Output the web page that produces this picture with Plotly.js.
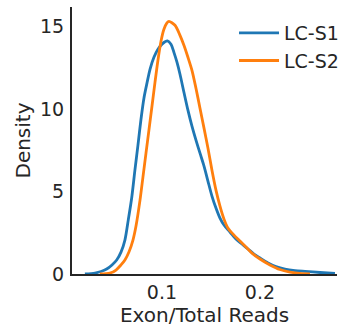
<!DOCTYPE html>
<html>
<head>
<meta charset="utf-8">
<script src="https://cdn.plot.ly/plotly-3.0.1.min.js"></script>
<style>html,body{margin:0;padding:0;background:#fff;}#chart{width:343px;height:327px;}</style>
</head>
<body>
<div id="chart"></div>
<script>
var seriesNames = ["LC-S1", "LC-S2"];
var s1X = [0.0214,0.0316,0.0378,0.0436,0.0490,0.0538,0.0582,0.0622,0.0656,0.0691,0.0724,0.0755,0.0786,0.0816,0.0847,0.0878,0.0918,0.0959,0.1000,0.1031,0.1056,
           0.1092,0.1122,0.1153,0.1184,0.1224,0.1265,0.1306,0.1347,0.1388,0.1429,0.1469,0.1510,0.1551,0.1592,0.1633,0.1694,0.1755,0.1816,0.1878,0.1939,0.2000,0.2082,0.2163,0.2255,0.2357,0.2459,0.2612,0.2765];
var s1Y = [0,0.06,0.15,0.30,0.55,0.85,1.33,2.06,3.27,4.61,6.30,7.82,9.39,10.67,11.58,12.42,13.15,13.64,13.94,14.09,14.15,
           13.94,13.45,12.85,12.12,11.03,9.94,8.97,8.12,7.33,6.55,5.64,4.73,4.00,3.39,2.97,2.55,2.12,1.82,1.52,1.21,0.97,0.67,0.45,0.30,0.21,0.16,0.09,0.03];
var s2X = [0.0367,0.0469,0.0531,0.0582,0.0622,0.0663,0.0704,0.0735,0.0776,0.0806,0.0837,0.0867,0.0898,0.0929,0.0959,0.0990,0.1020,0.1051,0.1071,
           0.1133,0.1184,0.1224,0.1265,0.1306,0.1347,0.1388,0.1429,0.1469,0.1510,0.1551,0.1592,0.1633,0.1673,0.1735,0.1796,0.1857,0.1918,0.2000,0.2102,0.2204,0.2306,0.2408,0.2510];
var s2Y = [0,0.06,0.24,0.55,0.85,1.33,2.06,2.91,4.48,5.88,7.33,8.73,10.18,11.64,12.97,14.12,14.85,15.24,15.33,
           15.09,14.48,13.88,13.15,12.36,11.27,10.06,8.85,7.64,6.30,5.09,4.12,3.33,2.79,2.36,2.00,1.64,1.27,0.91,0.55,0.27,0.12,0.03,0];
var xTickVals = [0.1, 0.2];
var xTickText = ["0.1", "0.2"];
var yTickVals = [0, 5, 10, 15];
var yTickText = ["0", "5", "10", "15"];
var colors = ["#1f77b4", "#ff7f0e"];

var fontFam = "DejaVu Sans, sans-serif";
var traces = [
  {x: s1X, y: s1Y, name: seriesNames[0], type: "scatter", mode: "lines",
   line: {color: colors[0], width: 2.8, shape: "spline", smoothing: 0.8}},
  {x: s2X, y: s2Y, name: seriesNames[1], type: "scatter", mode: "lines",
   line: {color: colors[1], width: 2.8, shape: "spline", smoothing: 0.8}}
];
var layout = {
  width: 343, height: 327,
  margin: {l: 72, r: 6, t: 7, b: 53, autoexpand: false},
  paper_bgcolor: "#fff", plot_bgcolor: "#fff",
  showlegend: true,
  legend: {x: 1.0265, xanchor: "right", y: 0.974, yanchor: "top", itemwidth: 40,
           font: {family: fontFam, size: 19, color: "#262626"},
           bgcolor: "rgba(0,0,0,0)", tracegroupgap: 0},
  xaxis: {range: [0.0082, 0.2786], tickvals: xTickVals, ticktext: xTickText,
          showgrid: false, zeroline: false, showline: true, linecolor: "#262626", linewidth: 2,
          ticks: "", ticklabelstandoff: 0, automargin: false,
          tickfont: {family: fontFam, size: 19, color: "#262626"},
          title: {text: "Exon/Total Reads", font: {family: fontFam, size: 20, color: "#262626"}, standoff: 0}},
  yaxis: {range: [0, 16.2], tickvals: yTickVals, ticktext: yTickText,
          showgrid: false, zeroline: false, showline: true, linecolor: "#262626", linewidth: 2,
          ticks: "", ticklabelstandoff: 2, automargin: false,
          tickfont: {family: fontFam, size: 19, color: "#262626"},
          title: {text: "Density", font: {family: fontFam, size: 20, color: "#262626"}, standoff: 4}}
};
Plotly.newPlot("chart", traces, layout, {displayModeBar: false, staticPlot: true});
</script>
</body>
</html>
